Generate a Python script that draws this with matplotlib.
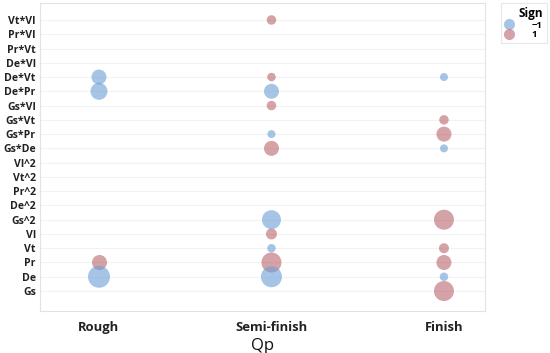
import matplotlib
matplotlib.use("Agg")
import matplotlib.pyplot as plt
from matplotlib.lines import Line2D

# ---- data ----
terms = ["Gs", "De", "Pr", "Vt", "Vl", "Gs^2", "De^2", "Pr^2", "Vt^2", "Vl^2",
         "Gs*De", "Gs*Pr", "Gs*Vt", "Gs*Vl", "De*Pr", "De*Vt", "De*Vl",
         "Pr*Vt", "Pr*Vl", "Vt*Vl"]
levels = ["Rough", "Semi-finish", "Finish"]

rough_terms = ["De*Vt", "De*Pr", "Pr", "De"]
rough_sign = [-1, -1, 1, -1]
rough_mag = [15, 17, 15, 22]

semi_terms = ["Vt*Vl", "De*Vt", "De*Pr", "Gs*Vl", "Gs*Pr", "Gs*De", "Gs^2",
              "Vl", "Vt", "Pr", "De"]
semi_sign = [1, 1, -1, 1, -1, 1, -1, 1, -1, 1, -1]
semi_mag = [9.5, 8.5, 15, 9.5, 8, 15, 19, 11, 8.5, 20, 21]

finish_terms = ["De*Vt", "Gs*Vt", "Gs*Pr", "Gs*De", "Gs^2", "Vt", "Pr", "De", "Gs"]
finish_sign = [-1, 1, 1, -1, 1, 1, 1, -1, 1]
finish_mag = [8, 9.5, 15, 8, 20, 10, 15, 8.5, 20]

sign_labels = ["\u22121", "1"]

# ---- style ----
FONT = "Open Sans"
plt.rcParams["font.family"] = [FONT, "DejaVu Sans"]
colors = {-1: "#6b9fd6", 1: "#b9646c"}
ALPHA = 0.6
PX = 0.72  # points per pixel at dpi 100

fig = plt.figure(figsize=(5.5, 3.53), dpi=100)
ax = fig.add_axes([40/550, 42/353, 445/550, 308/353])

ypos = {t: i for i, t in enumerate(terms)}
series = [(rough_terms, rough_sign, rough_mag),
          (semi_terms, semi_sign, semi_mag),
          (finish_terms, finish_sign, finish_mag)]

for lvl, (tt, ss, mm) in enumerate(series):
    for sgn in (1, -1):
        xs = [lvl for t, s in zip(tt, ss) if s == sgn]
        ys = [ypos[t] for t, s in zip(tt, ss) if s == sgn]
        sz = [(m * PX) ** 2 for m, s in zip(mm, ss) if s == sgn]
        ax.scatter(xs, ys, s=sz, color=colors[sgn], alpha=ALPHA,
                   linewidths=0, zorder=3)

ax.set_xlim(-0.342, 2.238)
ax.set_ylim(-1.40, 20.19)
ax.set_xticks(range(len(levels)))
ax.set_xticklabels(levels, fontsize=9.4, fontweight="bold", color="#222222")
ax.set_yticks(range(len(terms)))
ax.set_yticklabels(terms, fontsize=7.6, fontweight="bold", color="#222222")
ax.tick_params(axis="both", length=0, pad=3)
ax.tick_params(axis="x", pad=7)
ax.set_xlabel("Qp", fontsize=12, fontweight="normal", labelpad=3, color="#111111")
ax.yaxis.grid(True, color="#f2f2f2", linewidth=0.8, zorder=0)
ax.set_axisbelow(True)
for sp in ax.spines.values():
    sp.set_color("#e2e2e2")
    sp.set_linewidth(0.8)

handles = [Line2D([], [], marker="o", linestyle="none", markersize=8,
                  markerfacecolor=colors[s], markeredgewidth=0, alpha=ALPHA)
           for s in (-1, 1)]
leg = fig.legend(handles, sign_labels, title="Sign", loc="upper right",
                 bbox_to_anchor=(547/550, 1 - 3/353), frameon=True,
                 fontsize=6.8, title_fontproperties={"weight": "bold", "size": 8.5},
                 alignment="right", handlelength=0.8, handletextpad=2.0,
                 labelspacing=0.05, borderpad=0.45, borderaxespad=0,
                 fancybox=False, edgecolor="#e2e2e2")
leg.get_frame().set_linewidth(0.8)
for txt in leg.get_texts():
    txt.set_fontweight("bold")

fig.savefig("out.png", dpi=100)
